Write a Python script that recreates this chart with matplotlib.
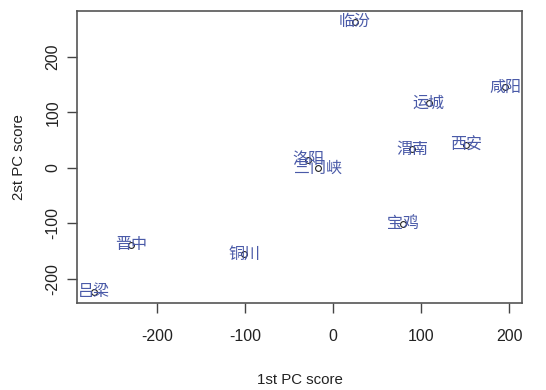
import matplotlib
matplotlib.use("Agg")
import matplotlib.pyplot as plt

cities = ["吕梁", "晋中", "铜川", "洛阳", "三门峡", "临汾", "运城", "咸阳", "渭南", "西安", "宝鸡"]
pc1 = [-271.6, -229.3, -100.6, -28.4, -17.4, 24.6, 108.6, 195.7, 89.7, 151.4, 79.1]
pc2 = [-223.4, -138.8, -155.0, 15.2, 0.0, 264.0, 116.7, 145.6, 33.9, 40.6, -100.7]
xticks = [-200, -100, 0, 100, 200]
yticks = [-200, -100, 0, 100, 200]

plt.rcParams['font.family'] = ['Liberation Sans', 'DejaVu Sans']

fig = plt.figure(figsize=(5.46, 3.90), dpi=100)
ax = fig.add_axes([0.1416, 0.2238, 0.8139, 0.7488])

ax.plot(pc1, pc2, linestyle='none', marker='o', markersize=4.2,
        markerfacecolor='none', markeredgecolor='#222222', markeredgewidth=0.8)
for name, x, y in zip(cities, pc1, pc2):
    ax.text(x, y, name, ha='center', va='center', color='#4a5aa8', fontsize=11.5,
            family=['Noto Sans CJK SC', 'DejaVu Sans'])

def rng(v):
    lo, hi = min(v), max(v)
    d = (hi - lo) * 0.04
    return lo - d, hi + d

ax.set_xlim(*rng(pc1))
ax.set_ylim(*rng(pc2))
ax.set_xticks(xticks)
ax.set_yticks(yticks)
ax.set_xticklabels([str(t) for t in xticks])
ax.set_yticklabels([str(t) for t in yticks], rotation=90, va='center')
ax.tick_params(direction='out', length=7, width=1, color='#444444',
               labelsize=11.5, labelcolor='#222222')
ax.tick_params(axis='x', pad=12)
ax.tick_params(axis='y', pad=5)
for s in ax.spines.values():
    s.set_color('#555555')
    s.set_linewidth(1.2)

ax.set_xlabel('1st PC score', fontsize=10.8, color='#222222', labelpad=21)
ax.set_ylabel('2st PC score', fontsize=10.8, color='#222222', labelpad=14)

fig.savefig('out.png', dpi=100)
